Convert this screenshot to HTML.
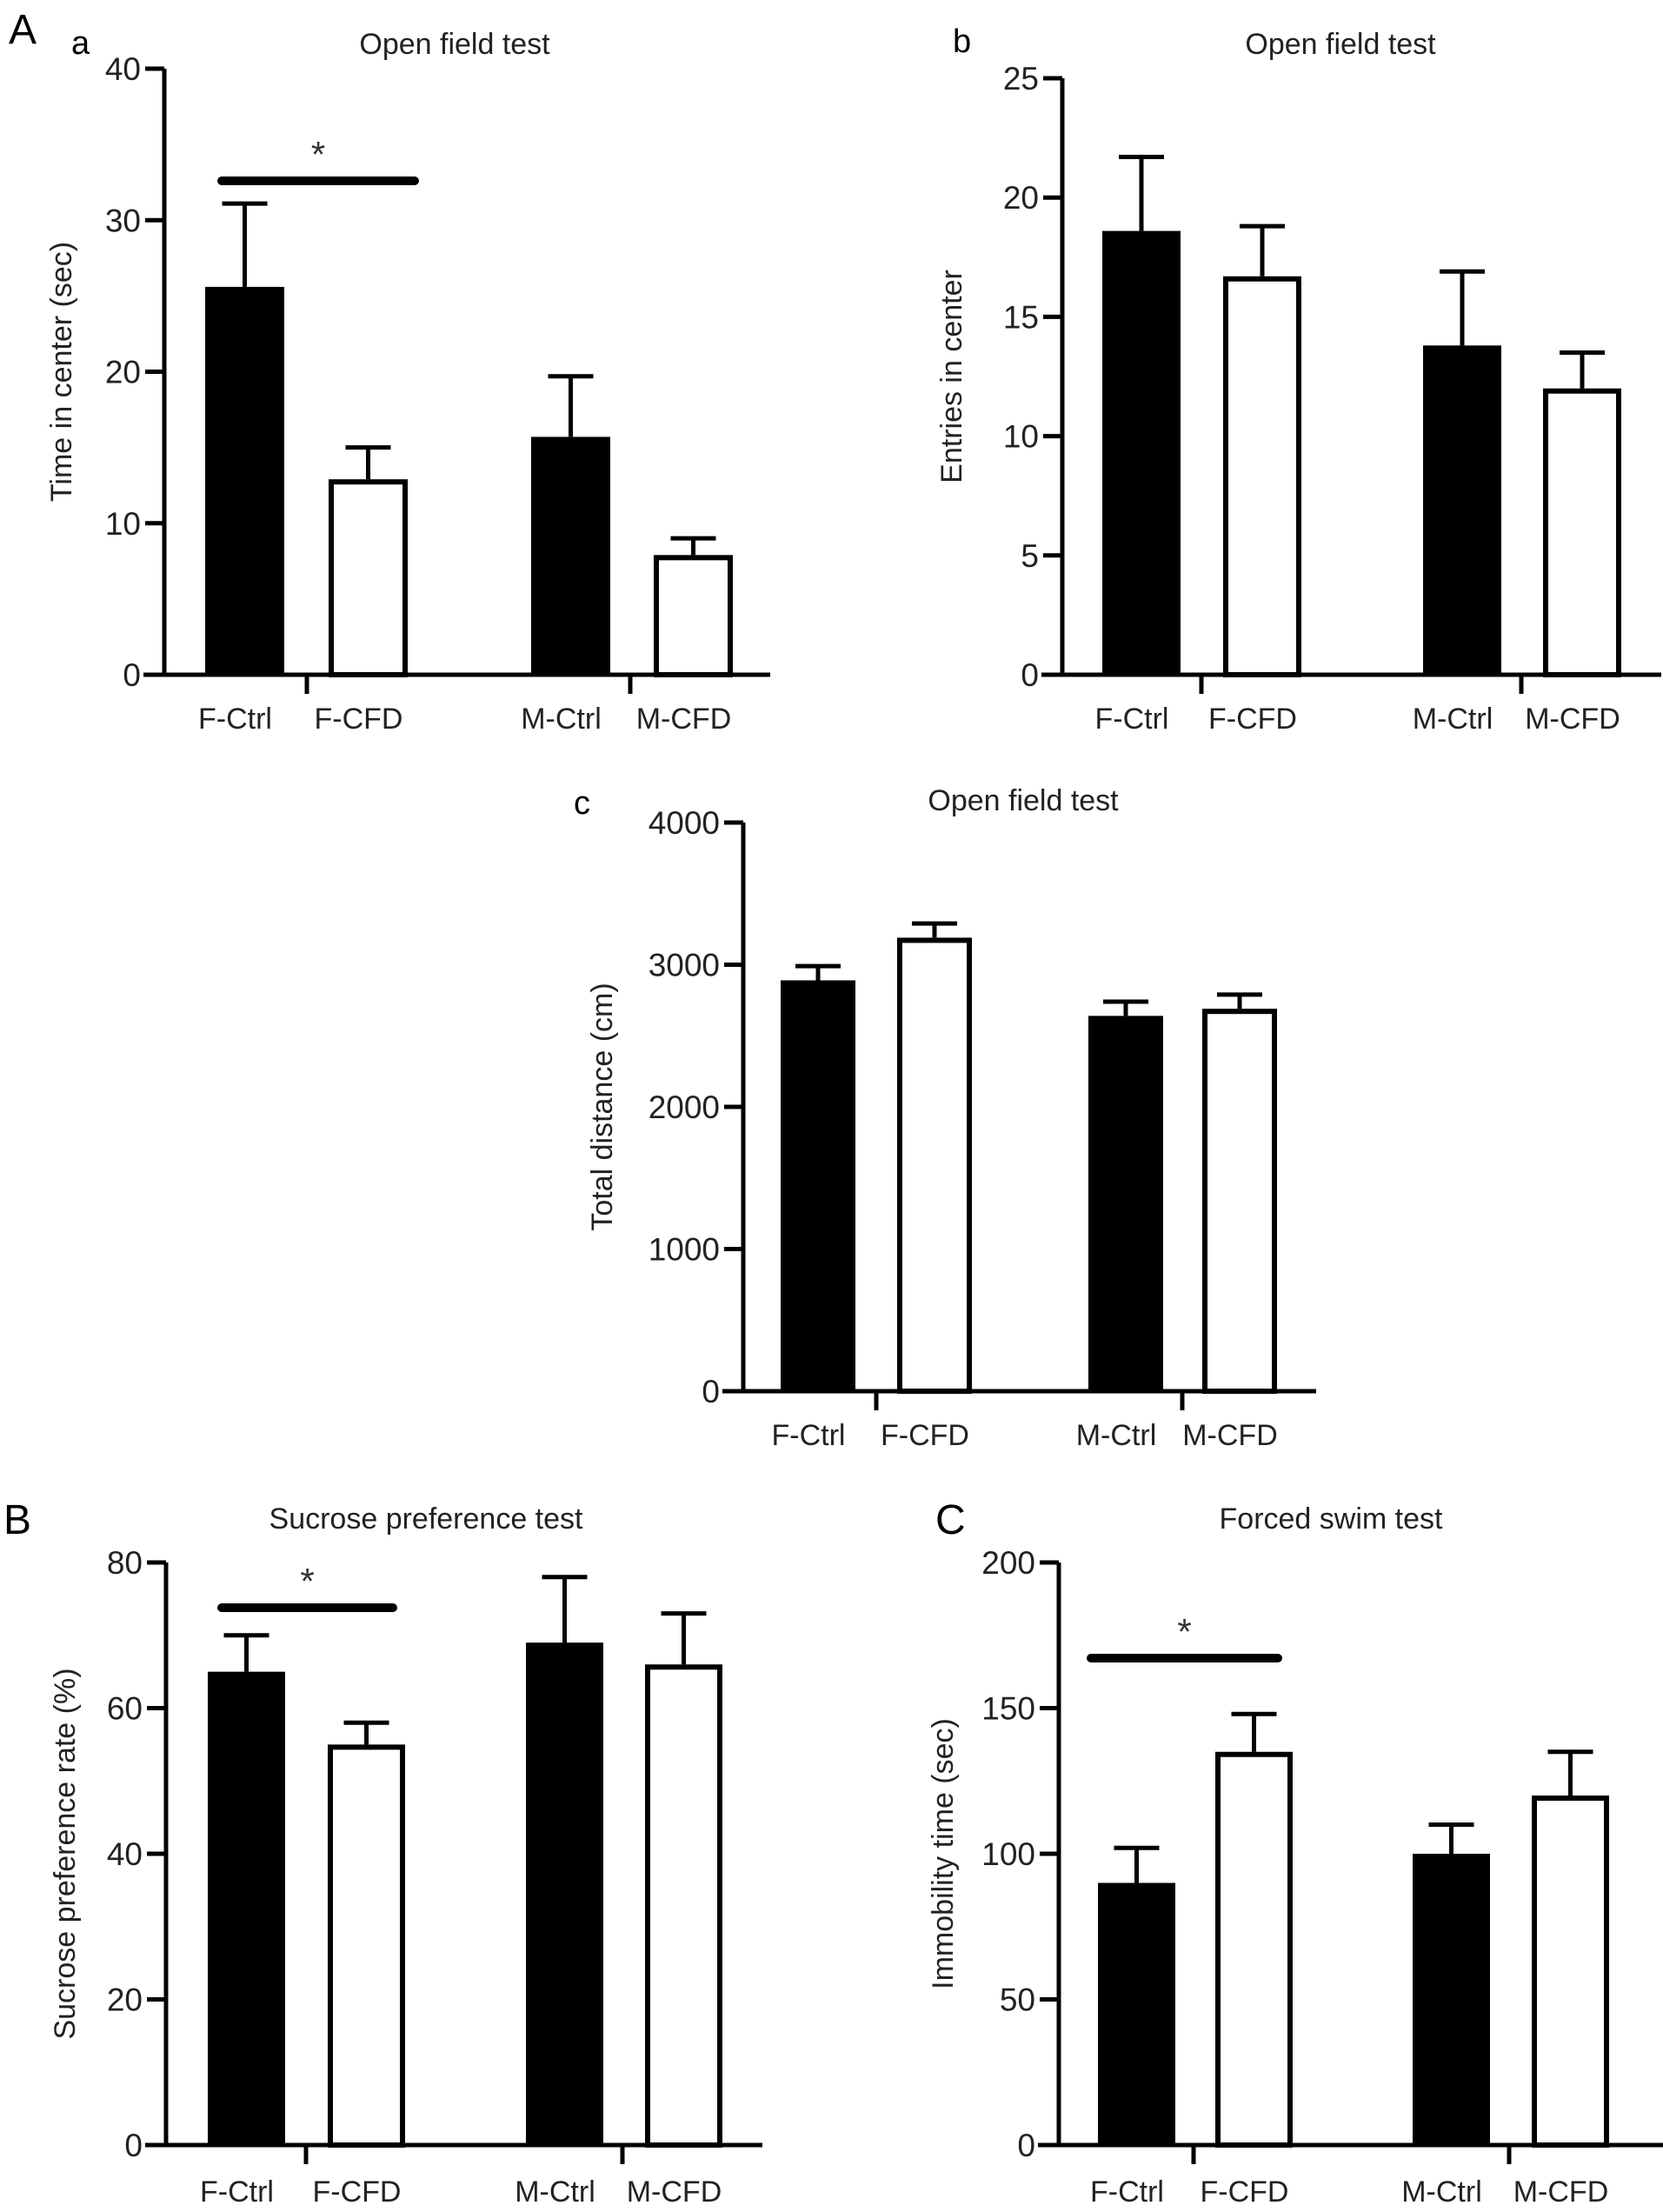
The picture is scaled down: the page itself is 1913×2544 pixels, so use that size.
<!DOCTYPE html>
<html><head><meta charset="utf-8"><style>
html,body{margin:0;padding:0;background:#fff;}
svg{display:block;font-family:"Liberation Sans",Arial,sans-serif;}
</style></head><body>
<svg id="fig" width="1913" height="2544" viewBox="0 0 1913 2544">
<text x="10" y="50" font-size="48">A</text>
<text x="82" y="62" font-size="38">a</text>
<text x="1096" y="60" font-size="38">b</text>
<text x="660" y="936" font-size="38">c</text>
<text x="4" y="1764" font-size="48">B</text>
<text x="1076" y="1764" font-size="48">C</text>
</svg>
<script>
const categories = ["F-Ctrl","F-CFD","M-Ctrl","M-CFD"];
// panel a
const aMeans = [25.6, 12.9, 15.7, 7.9];
const aErrTop = [31.1, 15.0, 19.7, 9.0];
const aTicks = [0,10,20,30,40];
// panel b
const bMeans = [18.6, 16.7, 13.8, 12.0];
const bErrTop = [21.7, 18.8, 16.9, 13.5];
const bTicks = [0,5,10,15,20,25];
// panel c
const cMeans = [2890, 3190, 2640, 2690];
const cErrTop = [2990, 3290, 2740, 2790];
const cTicks = [0,1000,2000,3000,4000];
// panel B
const BMeans = [65, 55, 69, 66];
const BErrTop = [70, 58, 78, 73];
const BTicks = [0,20,40,60,80];
// panel C
const CMeans = [90, 135, 100, 120];
const CErrTop = [102, 148, 110, 135];
const CTicks = [0,50,100,150,200];

const NS="http://www.w3.org/2000/svg";
const svg=document.getElementById('fig');
function mk(tag,attrs,parent){const e=document.createElementNS(NS,tag);for(const k in attrs)e.setAttribute(k,attrs[k]);(parent||svg).appendChild(e);return e;}

function chart(p){
  const g=mk('g',{});
  
  
  const max=p.ticks[p.ticks.length-1];
  const y=v=>p.y0-(v/max)*(p.y0-p.yTop);
  const t=mk('text',{x:p.titleX,y:p.titleY,'font-size':34,'text-anchor':'middle',fill:'#222'},g);
  t.textContent=p.title;
  
  
  const yl=mk('text',{x:0,y:0,'font-size':34,'text-anchor':'middle',fill:'#222',transform:`translate(${p.ylabX},${(p.y0+p.yTop)/2}) rotate(-90)`},g);
  yl.textContent=p.ylab;
  
  
  p.means.forEach((m,i)=>{
    const x0=p.barX[i], w=p.barW, cx=x0+w/2, filled=(i%2===0);
    const r=mk('rect',{x:filled?x0:x0+3,y:filled?y(m):y(m)+3,width:filled?w:w-6,height:filled?p.y0-y(m):p.y0-y(m)-3,fill:filled?'#000':'#fff',stroke:'#000','stroke-width':filled?0:6},g);
    
    
    const eb=mk('path',{d:`M${cx},${y(m)} V${y(p.err[i])} M${cx-26},${y(p.err[i])} H${cx+26}`,stroke:'#000','stroke-width':5,fill:'none'},g);
    
    
    const lb=mk('text',{x:cx-11,y:p.labY,'font-size':34,'text-anchor':'middle',fill:'#222'},g);
    lb.textContent=categories[i];
    
    
  });
  const ax=mk('path',{d:`M${p.axX},${p.yTop} V${p.y0} M${p.axX-24},${p.y0} H${p.axR}`,stroke:'#000','stroke-width':5,fill:'none'},g);
  
  
  p.groupTicks.forEach(gx=>{
    const gt=mk('line',{x1:gx,x2:gx,y1:p.y0,y2:p.y0+22,stroke:'#000','stroke-width':5},g);
    
    
  });
  p.ticks.forEach(v=>{
    const tk=mk('line',{x1:p.axX-22,x2:p.axX,y1:y(v),y2:y(v),stroke:'#000','stroke-width':5},g);
    
    
    const tl=mk('text',{x:p.axX-27,y:y(v)+13,'font-size':37,'text-anchor':'end',fill:'#222'},g);
    tl.textContent=v;
    
    
  });
  if(p.sig){
    const sb=mk('line',{x1:p.sig[0],x2:p.sig[1],y1:p.sig[2],y2:p.sig[2],stroke:'#000','stroke-width':10,'stroke-linecap':'round'},g);
    
    
    const st=mk('text',{x:(p.sig[0]+p.sig[1])/2,y:p.sig[2]-16,'font-size':42,'text-anchor':'middle',fill:'#333'},g);
    st.textContent='*';
    
    
  }
}

chart({name:'chart-a-time-in-center',title:'Open field test',titleX:523,titleY:62,ylab:'Time in center (sec)',ylabX:82,
  means:aMeans,err:aErrTop,ticks:aTicks,axX:189,axR:886,y0:776,yTop:79,barX:[236,378,611,752],barW:91,
  groupTicks:[353,725],labY:838,sig:[255,477,208]});
chart({name:'chart-b-entries-in-center',title:'Open field test',titleX:1542,titleY:62,ylab:'Entries in center',ylabX:1106,
  means:bMeans,err:bErrTop,ticks:bTicks,axX:1222,axR:1911,y0:776,yTop:90,barX:[1268,1407,1637,1775],barW:90,
  groupTicks:[1382,1750],labY:838});
chart({name:'chart-c-total-distance',title:'Open field test',titleX:1177,titleY:932,ylab:'Total distance (cm)',ylabX:704,
  means:cMeans,err:cErrTop,ticks:cTicks,axX:855,axR:1514,y0:1600,yTop:946,barX:[898,1032,1252,1383],barW:86,
  groupTicks:[1008,1360],labY:1662});
chart({name:'chart-B-sucrose-preference',title:'Sucrose preference test',titleX:490,titleY:1758,ylab:'Sucrose preference rate (%)',ylabX:86,
  means:BMeans,err:BErrTop,ticks:BTicks,axX:191,axR:877,y0:2467,yTop:1797,barX:[239,377,605,742],barW:89,
  groupTicks:[352,716],labY:2532,sig:[255,452,1849]});
chart({name:'chart-C-forced-swim',title:'Forced swim test',titleX:1531,titleY:1758,ylab:'Immobility time (sec)',ylabX:1096,
  means:CMeans,err:CErrTop,ticks:CTicks,axX:1218,axR:1913,y0:2467,yTop:1797,barX:[1263,1398,1625,1762],barW:89,
  groupTicks:[1373,1736],labY:2532,sig:[1255,1470,1907]});
</script>
</body></html>
